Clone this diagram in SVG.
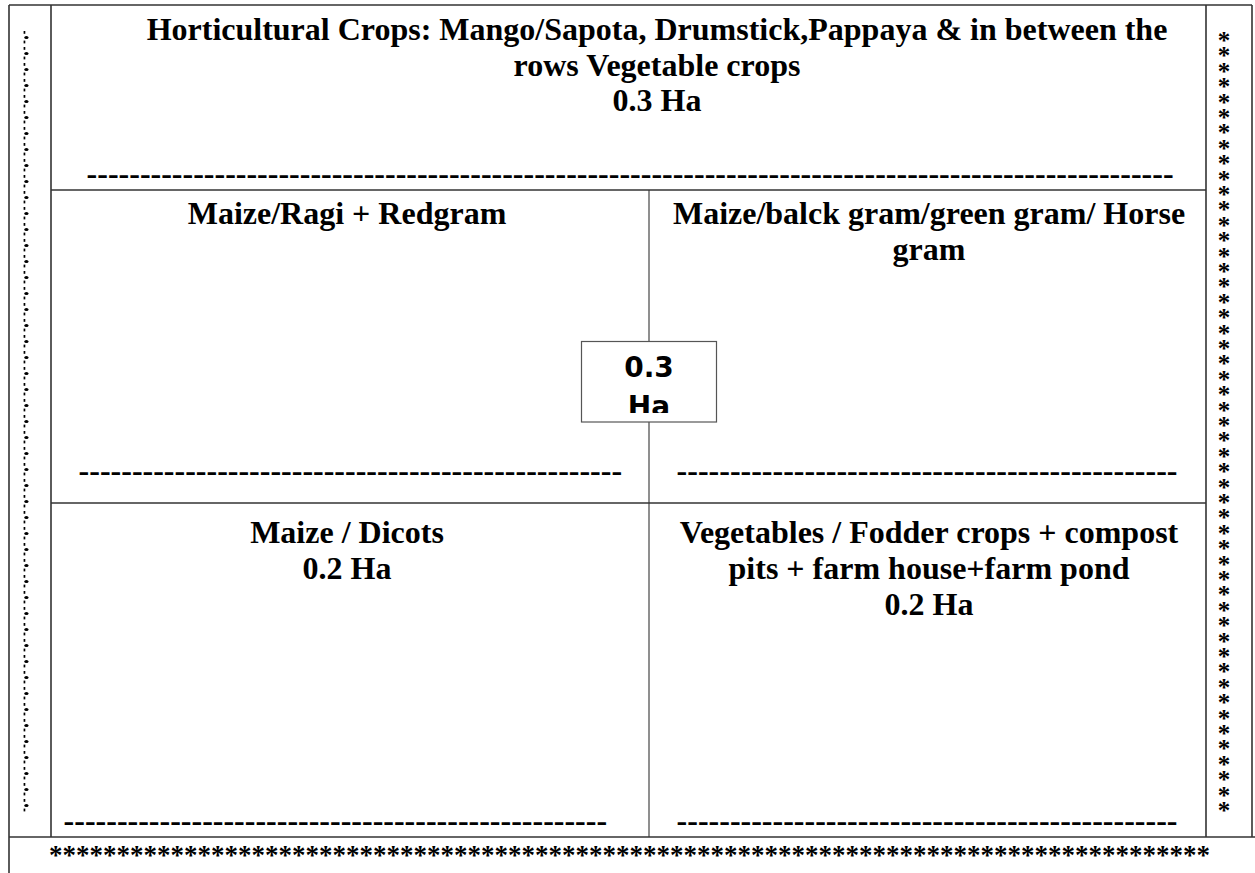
<svg xmlns="http://www.w3.org/2000/svg" width="1255" height="873" viewBox="0 0 1255 873">
<style>
.ln{stroke:#333;stroke-width:1.6;fill:none}
.lt{stroke:#333;stroke-width:1.1;fill:none}
.lbl{font-family:"Liberation Serif","Times New Roman",serif;font-weight:bold;font-size:32px;fill:#000;text-anchor:middle}
.dash{font-family:"Liberation Serif","Times New Roman",serif;font-weight:bold;font-size:32px;fill:#000}
.ast{font-family:"Liberation Serif","Times New Roman",serif;font-weight:bold;font-size:25px;fill:#000;text-anchor:middle}
.astb{font-family:"Liberation Serif","Times New Roman",serif;font-weight:bold;font-size:27px;fill:#000}
.box{font-family:"DejaVu Sans",sans-serif;font-weight:bold;font-size:28px;fill:#000;text-anchor:middle}
</style>
<defs>
<pattern id="dots" x="22" y="31" width="8" height="16" patternUnits="userSpaceOnUse">
<rect x="1.6" y="0" width="1.7" height="2.8" fill="#000"/>
<ellipse cx="4.4" cy="6.6" rx="2.1" ry="1.5" fill="#000"/>
<rect x="1.6" y="9.6" width="1.7" height="2.8" fill="#000"/>
</pattern>
<clipPath id="boxclip"><rect x="582" y="342" width="134" height="71"/></clipPath>
</defs>
<rect width="1255" height="873" fill="#fff"/>
<g id="connectors">
<line class="ln" x1="9" y1="5" x2="1252" y2="5"/>
<line class="ln" x1="9" y1="5" x2="9" y2="873"/>
<line class="ln" x1="51" y1="5" x2="51" y2="837"/>
<line class="ln" x1="1206" y1="5" x2="1206" y2="837"/>
<line class="ln" x1="1252" y1="5" x2="1252" y2="837"/>
<line class="ln" x1="51" y1="190" x2="1206" y2="190"/>
<line class="ln" x1="51" y1="503" x2="1206" y2="503"/>
<line class="ln" x1="9" y1="837" x2="1255" y2="837"/>
<line class="lt" x1="649" y1="190" x2="649" y2="837"/>
</g>
<g id="border-left">
<rect x="22" y="31" width="8" height="782" fill="url(#dots)"/>
</g>
<g id="border-right">
<text class="ast" x="1224 1224 1224 1224 1224 1224 1224 1224 1224 1224 1224 1224 1224 1224 1224 1224 1224 1224 1224 1224 1224 1224 1224 1224 1224 1224 1224 1224 1224 1224 1224 1224 1224 1224 1224 1224 1224 1224 1224 1224 1224 1224 1224 1224 1224 1224 1224 1224 1224 1224 1224" y="49 64.4 79.8 95.2 110.6 126 141.4 156.8 172.2 187.6 203 218.4 233.8 249.2 264.6 280 295.4 310.8 326.2 341.6 357 372.4 387.8 403.2 418.6 434 449.4 464.8 480.2 495.6 511 526.4 541.8 557.2 572.6 588 603.4 618.8 634.2 649.6 665 680.4 695.8 711.2 726.6 742 757.4 772.8 788.2 803.6 819">***************************************************</text>
</g>
<g id="border-bottom">
<text class="astb" x="49" y="864">**************************************************************************************</text>
</g>
<g id="node-horticultural">
<text class="lbl" x="657" y="40">Horticultural Crops: Mango/Sapota, Drumstick,Pappaya &amp; in between the</text>
<text class="lbl" x="657" y="76">rows Vegetable crops</text>
<text class="lbl" x="657" y="111">0.3 Ha</text>
<text class="dash" x="86.6" y="184">------------------------------------------------------------------------------------------------------</text>
</g>
<g id="node-maize-ragi">
<text class="lbl" x="347" y="224">Maize/Ragi + Redgram</text>
<text class="dash" x="78.6" y="481">---------------------------------------------------</text>
</g>
<g id="node-maize-gram">
<text class="lbl" x="929" y="224">Maize/balck gram/green gram/ Horse</text>
<text class="lbl" x="929" y="260">gram</text>
<text class="dash" x="676.6" y="481">-----------------------------------------------</text>
</g>
<g id="node-maize-dicots">
<text class="lbl" x="347" y="543">Maize / Dicots</text>
<text class="lbl" x="347" y="579">0.2 Ha</text>
<text class="dash" x="63.6" y="831">---------------------------------------------------</text>
</g>
<g id="node-vegetables">
<text class="lbl" x="929" y="543">Vegetables / Fodder crops + compost</text>
<text class="lbl" x="929" y="579">pits + farm house+farm pond</text>
<text class="lbl" x="929" y="615">0.2 Ha</text>
<text class="dash" x="676.6" y="831">-----------------------------------------------</text>
</g>
<g id="node-center">
<rect x="581.5" y="341.5" width="135" height="80.5" fill="#fff" stroke="#555" stroke-width="1.2"/>
<g clip-path="url(#boxclip)">
<text class="box" x="649" y="377">0.3</text>
<text class="box" x="649" y="416">Ha</text>
</g>
</g>
</svg>
